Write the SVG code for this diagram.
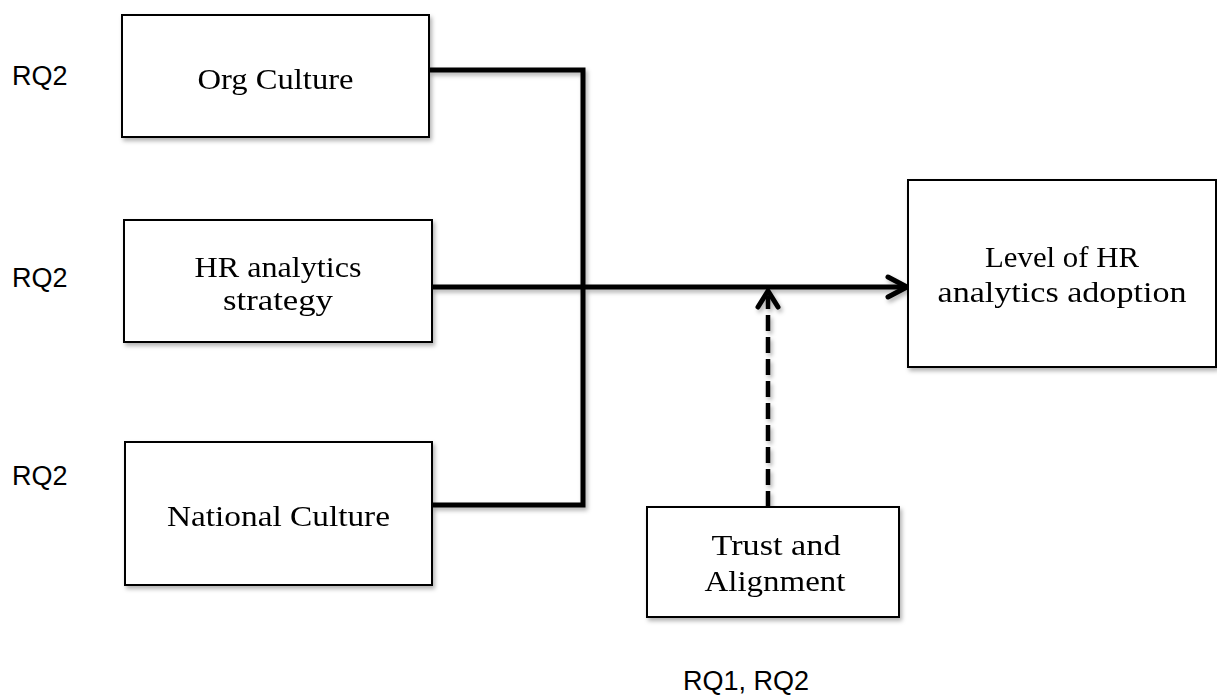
<svg xmlns="http://www.w3.org/2000/svg" width="1217" height="695" viewBox="0 0 1217 695">
<style>
.box{fill:#fff;stroke:#000;stroke-width:2}
.lbl{font-family:"Liberation Serif","Times New Roman",serif;font-size:29px;fill:#000;text-anchor:middle}
.rq{font-family:"Liberation Sans",Arial,sans-serif;font-size:27px;fill:#000}
.con{fill:none;stroke:#000;stroke-width:5}
.dash{fill:none;stroke:#000;stroke-width:4.5;stroke-dasharray:16 6}
.head{fill:none;stroke:#000;stroke-width:5;stroke-linecap:round;stroke-linejoin:miter}
.sh{filter:url(#shadow)}
</style>
<defs>
<filter id="shadow" x="-10%" y="-10%" width="130%" height="140%">
<feDropShadow dx="2" dy="3" stdDeviation="2" flood-color="#000" flood-opacity="0.3"/>
</filter>
</defs>
<rect width="1217" height="695" fill="#fff"/>
<g id="connectors" class="sh">
<path class="con" d="M429,70 H583 V505 H432"/>
<path class="con" d="M432,287 H904"/>
<path class="head" d="M888,277 L907,287 L888,297"/>
<path class="dash" d="M768,507 V296"/>
<path class="head" d="M758,307 L768,291 L778,307"/>
</g>
<g id="org-culture" class="sh">
<rect class="box" x="122" y="15" width="307" height="122"/>
<text class="lbl" x="275.5" y="89" textLength="156" lengthAdjust="spacingAndGlyphs">Org Culture</text>
</g>
<g id="hr-strategy" class="sh">
<rect class="box" x="124" y="220" width="308" height="122"/>
<text class="lbl" x="278" y="277" textLength="167" lengthAdjust="spacingAndGlyphs">HR analytics</text>
<text class="lbl" x="278" y="310" textLength="110" lengthAdjust="spacingAndGlyphs">strategy</text>
</g>
<g id="national-culture" class="sh">
<rect class="box" x="125" y="442" width="307" height="143"/>
<text class="lbl" x="278.5" y="526" textLength="223" lengthAdjust="spacingAndGlyphs">National Culture</text>
</g>
<g id="adoption" class="sh">
<rect class="box" x="908" y="180" width="308" height="187"/>
<text class="lbl" x="1062" y="267" textLength="154" lengthAdjust="spacingAndGlyphs">Level of HR</text>
<text class="lbl" x="1062" y="302" textLength="249" lengthAdjust="spacingAndGlyphs">analytics adoption</text>
</g>
<g id="trust" class="sh">
<rect class="box" x="647" y="507" width="252" height="110"/>
<text class="lbl" x="776" y="555" textLength="129" lengthAdjust="spacingAndGlyphs">Trust and</text>
<text class="lbl" x="775" y="591" textLength="141" lengthAdjust="spacingAndGlyphs">Alignment</text>
</g>
<g id="rq-labels">
<text class="rq" x="12" y="85">RQ2</text>
<text class="rq" x="12" y="287">RQ2</text>
<text class="rq" x="12" y="485">RQ2</text>
<text class="rq" x="683" y="690">RQ1, RQ2</text>
</g>
</svg>
